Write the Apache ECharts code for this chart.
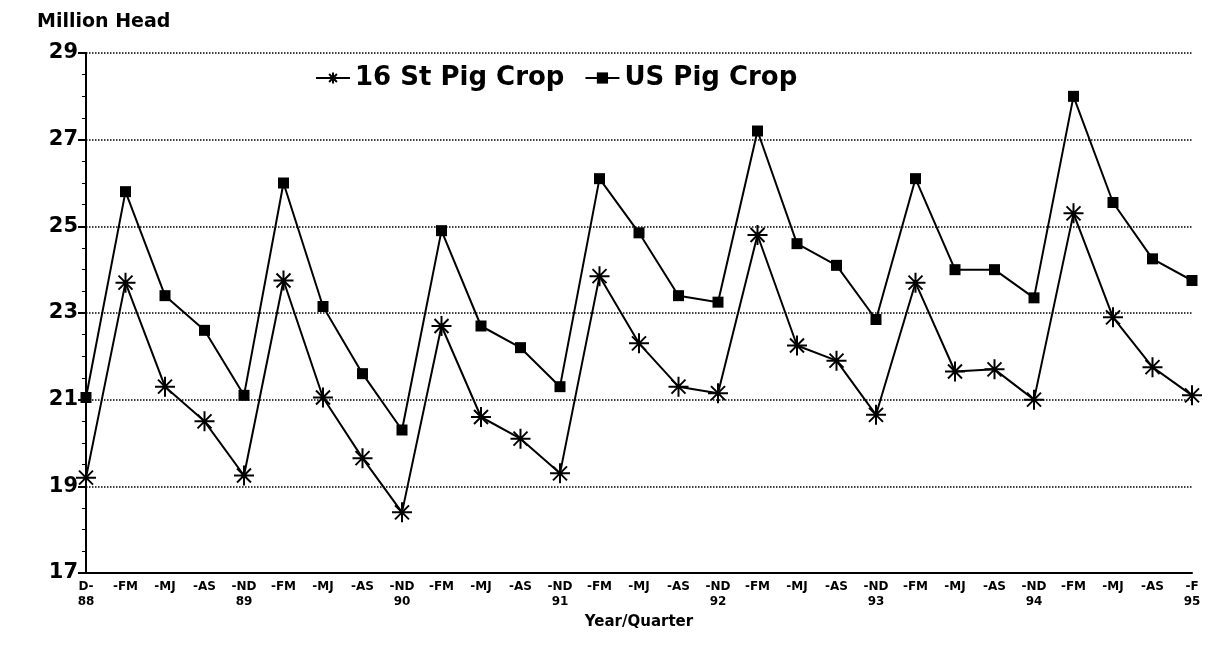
<!DOCTYPE html><html><head><meta charset="utf-8"><script src="https://cdn.jsdelivr.net/npm/echarts@6/dist/echarts.min.js"></script></head><body style="margin:0;background:#fff"><div id="c" style="width:1221px;height:654px"></div><script>
const quarters=["D","FM","MJ","AS","ND","FM","MJ","AS","ND","FM","MJ","AS","ND","FM","MJ","AS","ND","FM","MJ","AS","ND","FM","MJ","AS","ND","FM","MJ","AS","F"];
const years={0:"88",4:"89",8:"90",12:"91",16:"92",20:"93",24:"94",28:"95"};
const usCrop=[21.05,25.8,23.4,22.6,21.1,26.0,23.15,21.6,20.3,24.9,22.7,22.2,21.3,26.1,24.85,23.4,23.25,27.2,24.6,24.1,22.85,26.1,24.0,24.0,23.35,28.0,25.55,24.25,23.75];
const st16=[19.2,23.7,21.3,20.5,19.25,23.75,21.05,19.65,18.4,22.7,20.6,20.1,19.3,23.85,22.3,21.3,21.15,24.8,22.25,21.9,20.65,23.7,21.65,21.7,21.0,25.3,22.9,21.75,21.1];
const star='path://M0,-10L0,10M-10,0L10,0M-7,-7L7,7M-7,7L7,-7';
const F="DejaVu Sans";
const ch=echarts.init(document.getElementById('c'));
ch.setOption({animation:false,
title:{text:"Million Head",left:32,top:8,textStyle:{fontFamily:F,fontWeight:'bold',fontSize:19,color:'#000'}},
legend:{top:60,left:310,itemGap:20,itemWidth:34,textStyle:{fontFamily:F,fontWeight:'bold',fontSize:26,color:'#000'},
 data:[{name:"16 St Pig Crop"},{name:"US Pig Crop"}]},
grid:{left:86,right:29,top:53,bottom:81},
xAxis:{type:'category',boundaryGap:false,data:quarters,
 axisLine:{lineStyle:{color:'#000',width:2}},axisTick:{show:false},
 axisLabel:{interval:0,fontFamily:F,fontWeight:'bold',fontSize:12,color:'#000',margin:6,lineHeight:15,
  formatter:(v,i)=>{let s=i==0?"D-":"-"+v;return years[i]?s+"\n"+years[i]:s;}},
 name:"Year/Quarter",nameLocation:'middle',nameGap:42,nameTextStyle:{fontFamily:F,fontWeight:'bold',fontSize:15,color:'#000'}},
yAxis:{type:'value',min:17,max:29,interval:2,
 axisLine:{show:true,lineStyle:{color:'#000',width:2}},axisTick:{show:true,length:8,lineStyle:{color:'#000',width:2}},
 minorTick:{show:true,splitNumber:4,length:4,lineStyle:{color:'#000'}},
 splitLine:{lineStyle:{type:'dotted',color:'#000',width:1.5}},
 axisLabel:{fontFamily:F,fontWeight:'bold',fontSize:21,color:'#000'}},
series:[
 {name:"16 St Pig Crop",type:'line',data:st16,symbol:star,symbolSize:20,itemStyle:{color:'#fff',borderColor:'#000',borderWidth:2},lineStyle:{color:'#000',width:2}},
 {name:"US Pig Crop",type:'line',data:usCrop,symbol:'rect',symbolSize:11,itemStyle:{color:'#000'},lineStyle:{color:'#000',width:2}}
]});
</script></body></html>
